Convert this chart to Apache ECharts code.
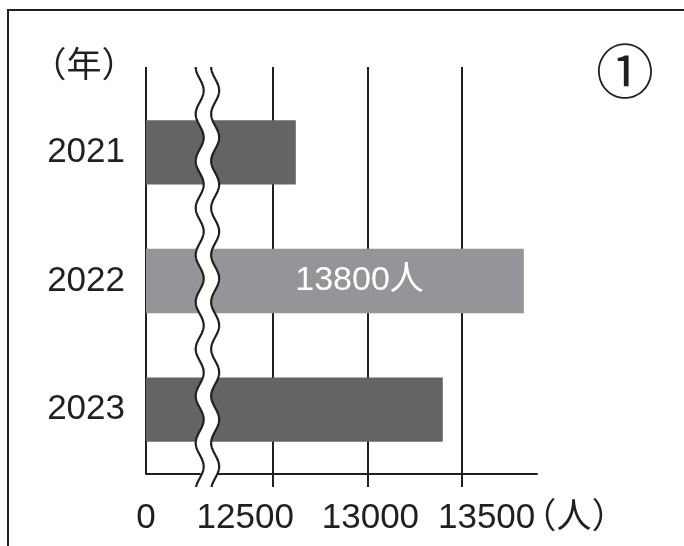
<!DOCTYPE html>
<html>
<head>
<meta charset="utf-8">
<script src="https://cdn.jsdelivr.net/npm/echarts@6/dist/echarts.min.js"></script>
<style>
  html, body { margin: 0; padding: 0; background: #fff; }
  #chart { width: 684px; height: 546px; }
</style>
</head>
<body>
<div id="chart"></div>
<script>
// ---- data ----
const years = ['2021', '2022', '2023'];
const visitors = [12620, 13830, 13400];
const barLabels = ['', '13800人', ''];
const xTicks = [0, 12500, 13000, 13500];
const xMax = 13900;
const axisBreak = { start: 285, end: 12192, gap: 82 };
const yearUnit = '（年）';
const personUnit = '（人）';
const panelMark = '①';

// ---- style ----
const INK = '#231f20';
const DARK = '#646466';
const LIGHT = '#939598';
const FONT = '"Liberation Sans", "Noto Sans CJK JP", sans-serif';
const TICK_LEN = 13;
const GRID_LEFT = 146, GRID_RIGHT = 147, GRID_BOTTOM = 72, BAR_TOP = 88, LINE_TOP = 67;
const LINE_HEIGHT = 546 - GRID_BOTTOM - LINE_TOP;

const chart = echarts.init(document.getElementById('chart'), null, { renderer: 'canvas' });

const xBase = {
  type: 'value',
  min: 0,
  max: xMax,
  interval: 500,
  breaks: [{ start: axisBreak.start, end: axisBreak.end, gap: axisBreak.gap }],
  breakArea: { show: false, itemStyle: { opacity: 0, borderWidth: 0 } },
};

const option = {
  backgroundColor: '#fff',
  animation: false,
  grid: [
    { left: GRID_LEFT, right: GRID_RIGHT, top: BAR_TOP, bottom: GRID_BOTTOM, containLabel: false },
    { left: GRID_LEFT, right: GRID_RIGHT, top: LINE_TOP, bottom: GRID_BOTTOM, containLabel: false }
  ],
  xAxis: [
    Object.assign({}, xBase, {
      gridIndex: 0,
      axisLine: { show: true, lineStyle: { color: INK, width: 2 } },
      axisTick: { show: true, length: TICK_LEN, customValues: xTicks.slice(1), lineStyle: { color: INK, width: 2 } },
      splitLine: { show: false },
      axisLabel: {
        show: true,
        customValues: xTicks,
        margin: 27,
        color: INK,
        fontSize: 35,
        fontFamily: FONT,
        formatter: function (v) {
          if (v === 12500) return '{l|' + v + '}';
          if (v === 13500) return '{r|' + v + '}';
          if (v === 13000) return '{m|' + v + '}';
          return '{n|' + v + '}';
        },
        rich: {
          l: { fontSize: 35, fontFamily: FONT, color: INK, padding: [0, 56, 0, 0] },
          m: { fontSize: 35, fontFamily: FONT, color: INK, padding: [0, 0, 0, 6] },
          r: { fontSize: 35, fontFamily: FONT, color: INK, padding: [0, 0, 0, 50] },
          n: { fontSize: 35, fontFamily: FONT, color: INK }
        }
      }
    }),
    Object.assign({}, xBase, {
      gridIndex: 1,
      axisLine: { show: false },
      axisTick: { show: true, inside: true, length: LINE_HEIGHT, customValues: xTicks, lineStyle: { color: INK, width: 2 } },
      axisLabel: { show: false },
      splitLine: { show: false }
    })
  ],
  yAxis: [
    {
      type: 'category',
      gridIndex: 0,
      data: years,
      inverse: true,
      axisLine: { show: false },
      axisTick: { show: false },
      splitLine: { show: false },
      axisLabel: { margin: 21, color: INK, fontSize: 35, fontFamily: FONT }
    },
    {
      type: 'value',
      gridIndex: 1,
      min: 0,
      max: 1,
      show: false
    }
  ],
  series: [
    {
      type: 'bar',
      xAxisIndex: 0,
      yAxisIndex: 0,
      barWidth: '50%',
      z: 2,
      data: visitors.map(function (v, i) {
        return {
          value: v,
          itemStyle: { color: i === 1 ? LIGHT : DARK },
          label: {
            show: barLabels[i] !== '',
            formatter: barLabels[i],
            position: 'insideRight',
            distance: 100,
            color: '#ffffff',
            fontSize: 34,
            fontFamily: FONT
          }
        };
      })
    },
    {
      type: 'custom',
      xAxisIndex: 1,
      yAxisIndex: 1,
      z: 10,
      silent: true,
      clip: false,
      data: [[0, 0]],
      renderItem: function (params, api) {
        const top = api.coord([axisBreak.start, 1])[1];
        const bottom = api.coord([axisBreak.start, 0])[1] + TICK_LEN;
        const x1 = api.coord([axisBreak.start, 0])[0];
        const x2 = api.coord([axisBreak.end, 0])[0];
        const A = 4, P = 47;
        const left = [], right = [];
        for (let y = top; y <= bottom + 0.01; y += 1) {
          const d = -A * Math.cos(2 * Math.PI * (y - top) / P);
          left.push([x1 + d, y]);
          right.push([x2 + d, y]);
        }
        const poly = left.concat(right.slice().reverse());
        return {
          type: 'group',
          children: [
            { type: 'polygon', shape: { points: poly }, style: { fill: '#fff', stroke: null } },
            { type: 'polyline', shape: { points: left }, style: { fill: null, stroke: INK, lineWidth: 2.2 } },
            { type: 'polyline', shape: { points: right }, style: { fill: null, stroke: INK, lineWidth: 2.2 } }
          ]
        };
      }
    }
  ],
  graphic: [
    { type: 'rect', z: 100, silent: true, shape: { x: 8, y: 10, width: 720, height: 620 }, style: { fill: null, stroke: INK, lineWidth: 2 } },
    { type: 'text', z: 100, style: { text: yearUnit, x: 84, y: 67, align: 'center', verticalAlign: 'middle', fontSize: 35, fontFamily: FONT, fill: INK } },
    { type: 'text', z: 100, style: { text: personUnit, x: 574, y: 518, align: 'center', verticalAlign: 'middle', fontSize: 35, fontFamily: FONT, fill: INK } },
    { type: 'text', z: 100, style: { text: panelMark, x: 625, y: 77, align: 'center', verticalAlign: 'middle', fontSize: 58, fontFamily: FONT, fill: INK } }
  ]
};

chart.setOption(option);
</script>
</body>
</html>
